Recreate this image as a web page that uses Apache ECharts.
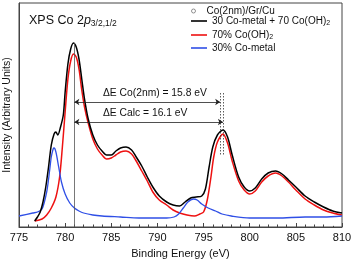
<!DOCTYPE html>
<html><head><meta charset="utf-8">
<script src="https://cdn.jsdelivr.net/npm/echarts@6/dist/echarts.min.js"></script>
<style>html,body{margin:0;padding:0;background:#fff}#c{width:354px;height:265px}</style>
</head><body><div id="c"></div>
<script>
// Measured data (x: binding energy eV, y: intensity, arbitrary units)
var dataE = [776.5,776.75,777,777.25,777.5,777.75,778,778.25,778.5,778.75,779,779.25,779.5,779.75,780,780.25,780.5,780.75,781,781.25,781.5,781.75,782,782.25,782.5,782.75,783,783.25,783.5,783.75,784,784.25,784.5,784.75,785,785.25,785.5,785.75,786,786.25,786.5,786.75,787,787.25,787.5,787.75,788,788.25,788.5,788.75,789,789.25,789.5,789.75,790,790.25,790.5,790.75,791,791.25,791.5,791.75,792,792.25,792.5,792.75,793,793.25,793.5,793.75,794,794.25,794.5,794.75,795,795.25,795.5,795.75,796,796.25,796.5,796.75,797,797.25,797.5,797.75,798,798.25,798.5,798.75,799,799.25,799.5,799.75,800,800.25,800.5,800.75,801,801.25,801.5,801.75,802,802.25,802.5,802.75,803,803.25,803.5,803.75,804,804.25,804.5,804.75,805,805.25,805.5,805.75,806,806.25,806.5,806.75,807,807.25,807.5,807.75,808,808.25,808.5,808.75,809,809.25];
var dataI = [5,7,10,18,32,56,87,106,111,116,121,130,138,146,155,166,176,182,184,182,176,167,158,146,132,120,110,104,99,92,86,83,81,80,79,79,79,80,80,81,82,81,79,77,74,70,67,62,57,52,46,40,33,28,24,21,19,17,16,14,13,12,12,14,17,20,24,27,29,30,31,32,34,36,40,44,50,56,63,70,76,81,84,82,76,70,63,57,51,46,41,38,35,34,34,34,36,38,41,45,48,51,52,53,54,54,54,53,51,49,47,44,40,36,32,28,25,22,19,17,15,13,11,10,9,8,7,6,5,5,4,4];

var sumE = [776.7,777.0,777.3,777.6,777.9,778.2,778.5,778.8,779.0,779.2,779.5,779.8,780.0,780.3,780.6,780.9,781.2,781.5,781.8,782.1,782.5,783.0,783.5,784.0,784.5,785.0,785.5,786.0,786.6,787.2,787.7,788.3,788.9,789.5,790.2,791.0,791.7,792.4,793.0,793.6,794.2,794.8,795.2,795.6,796.0,796.5,797.1,797.6,798.1,798.8,799.4,800.0,800.6,801.3,802.0,802.8,803.5,804.2,805.0,806.0,807.0,808.0,809.0,810.0];
var sumI = [6,10,15,25,40,60,82,93,95,92,100,112,135,163,178,184,180,168,148,128,108,92,82,76,72,72,76,79,80,77,70,61,50,40,31,25,22,21,25,29,30,31,38,60,80,92,97,90,72,50,40,36,39,48,54,56,53,47,40,31,25,20,16,14];

var co3E = [776.7,777.5,778.0,778.5,779.0,779.4,779.7,780.0,780.3,780.6,780.9,781.2,781.5,781.8,782.1,782.5,783.0,783.5,784.0,784.5,785.0,785.5,786.0,786.6,787.2,787.7,788.3,788.9,789.5,790.2,791.0,791.7,792.4,793.2,794.0,794.6,795.0,795.4,795.8,796.1,796.5,797.1,797.6,798.1,798.8,799.4,800.0,800.6,801.3,802.0,802.8,803.5,804.2,805.0,806.0,807.0,808.0,809.0,810.0];
var co3I = [6,8,12,19,30,50,80,115,148,166,173,170,158,137,120,104,88,78,72,68,69,72,75,76,73,66,56,46,35,27,22,17,14,12,11,13,15,27,50,70,85,93,84,66,46,37,33,36,45,51,54,51,45,37,28,22,17,14,12];

var metE = [775.0,776.5,777.0,777.5,778.0,778.3,778.5,778.7,778.8,779.0,779.3,779.6,780.0,780.5,781.0,781.5,782.0,783.0,784.0,786.0,788.0,790.0,791.0,791.8,792.3,792.8,793.3,793.9,794.3,794.8,795.5,796.3,797.0,798.0,800.0,803.0,806.0,808.0,810.0];
var metI = [11,14,15,18,35,55,70,78,79,75,60,45,33,24,19,16,14,12,11,10,9,9,9,10,13,19,25,28,27,23,19,16,13,11,9,9,10,10,11];

var xTicks = [775,780,785,790,795,800,805,810];
var peak1 = 781.0, peak2Meas = 796.8, peak2Calc = 797.1;
var label1 = '\u0394E Co(2nm) = 15.8 eV', label2 = '\u0394E Calc = 16.1 eV';
var legendNames = ['Co(2nm)/Gr/Cu','30 Co-metal + 70 Co(OH)2','70% Co(OH)2','30% Co-metal'];

function zip(a,b){return a.map(function(v,i){return [v,b[i]];});}
var FONT = 'Liberation Sans, Arial, sans-serif';
var chart = echarts.init(document.getElementById('c'), null, {renderer:'canvas'});
var legTS = {fontSize:10,color:'#111',fontFamily:FONT,rich:{t:{fontSize:10,fontFamily:FONT,color:'#111'},s:{fontSize:7,fontFamily:FONT,color:'#111',padding:[5,0,0,0]}}};
function fmt(n){var m=n.match(/^(.*Co\(OH\))2$/); return m?'{t|'+m[1]+'}{s|2}':'{t|'+n+'}';}
function lineLegend(name, top){return {data:[{name:name,icon:'rect'}],left:191,top:top,itemWidth:16,itemHeight:1.6,formatter:fmt,textStyle:legTS,padding:0,itemGap:0};}
chart.setOption({
  animation:false,
  textStyle:{fontFamily:FONT},
  title:{text:'{a|XPS Co 2}{i|p}{s|3/2,1/2}', left:24, top:8,
    textStyle:{fontWeight:'normal',rich:{a:{fontSize:12.5,fontWeight:'normal',fontFamily:FONT,color:'#111'},i:{fontSize:12.5,fontWeight:'normal',fontStyle:'italic',fontFamily:FONT,color:'#111'},s:{fontSize:8.5,fontWeight:'normal',fontFamily:FONT,color:'#111',verticalAlign:'bottom',padding:[6,0,0,0]}}}},
  legend:[{data:[{name:legendNames[0],icon:'circle',itemStyle:{color:'#fff',borderColor:'#777',borderWidth:1}}], left:191, top:6, itemWidth:16, itemHeight:4, padding:0,
    formatter:fmt, textStyle:legTS},
    lineLegend(legendNames[1],16), lineLegend(legendNames[2],30), lineLegend(legendNames[3],43)],
  grid:{left:19,right:12,top:3,bottom:38,show:true,borderColor:'#444',borderWidth:1,containLabel:false,outerBoundsMode:'none'},
  xAxis:{type:'value',min:775,max:810,interval:5,
    name:'Binding Energy (eV)',nameLocation:'middle',nameGap:21,nameTextStyle:{fontSize:11,color:'#111',fontFamily:FONT},
    axisLine:{lineStyle:{color:'#444'}},axisTick:{inside:true,length:4,lineStyle:{color:'#444'}},
    minorTick:{show:true,splitNumber:5,length:2.5,lineStyle:{color:'#444'}},
    axisLabel:{fontSize:11,color:'#111',margin:5,fontFamily:FONT,formatter:function(v){return xTicks.indexOf(v)>=0?String(v):'';}},
    splitLine:{show:false}},
  yAxis:{type:'value',min:0,max:224,
    name:'Intensity (Arbitrary Units)',nameLocation:'middle',nameGap:6,nameRotate:90,nameTextStyle:{fontSize:10.5,color:'#111',fontFamily:FONT},
    axisLine:{show:true,lineStyle:{color:'#444'}},axisTick:{show:false},axisLabel:{show:false},splitLine:{show:false}},
  series:[
    {name:legendNames[0],type:'scatter',data:zip(dataE,dataI),symbol:'emptyCircle',symbolSize:4,
      itemStyle:{color:'#fff',borderColor:'#777',borderWidth:0.9},z:2},
    {name:legendNames[2],type:'line',data:zip(co3E,co3I),symbol:'none',smooth:0.3,lineStyle:{color:'#ee1111',width:1.5},itemStyle:{color:'#ee1111'},z:3},
    {name:legendNames[3],type:'line',data:zip(metE,metI),symbol:'none',smooth:0.3,lineStyle:{color:'#2f4fe6',width:1.3},itemStyle:{color:'#2f4fe6'},z:3},
    {name:legendNames[1],type:'line',data:zip(sumE,sumI),symbol:'none',smooth:0.3,lineStyle:{color:'#000',width:1.5},itemStyle:{color:'#000'},z:4,
      markLine:{silent:true,animation:false,label:{show:false},
        data:[
          [{coord:[peak1,0],symbol:'none',lineStyle:{color:'#555',width:0.8,type:'solid'}},{coord:[peak1,184],symbol:'none'}],
          [{coord:[peak1,125],symbol:'arrow',symbolSize:5,lineStyle:{color:'#222',width:0.8,type:'solid'}},{coord:[peak2Meas,125],symbol:'arrow',symbolSize:5}],
          [{coord:[peak1,105],symbol:'arrow',symbolSize:5,lineStyle:{color:'#222',width:0.8,type:'solid'}},{coord:[peak2Calc,105],symbol:'arrow',symbolSize:5}],
          [{coord:[peak2Meas,134],symbol:'none',lineStyle:{color:'#333',width:0.8,type:[1.5,1.5]}},{coord:[peak2Meas,72],symbol:'none'}],
          [{coord:[peak2Calc,134],symbol:'none',lineStyle:{color:'#333',width:0.8,type:[1.5,1.5]}},{coord:[peak2Calc,72],symbol:'none'}]
        ]},
      markPoint:{silent:true,symbol:'circle',symbolSize:0,
        data:[
          {coord:[784.1,134],label:{show:true,formatter:label1,position:'right',distance:0,fontSize:10.3,color:'#111',fontFamily:FONT}},
          {coord:[784.1,114],label:{show:true,formatter:label2,position:'right',distance:0,fontSize:10.3,color:'#111',fontFamily:FONT}}
        ]}}
  ]
});
</script></body></html>
